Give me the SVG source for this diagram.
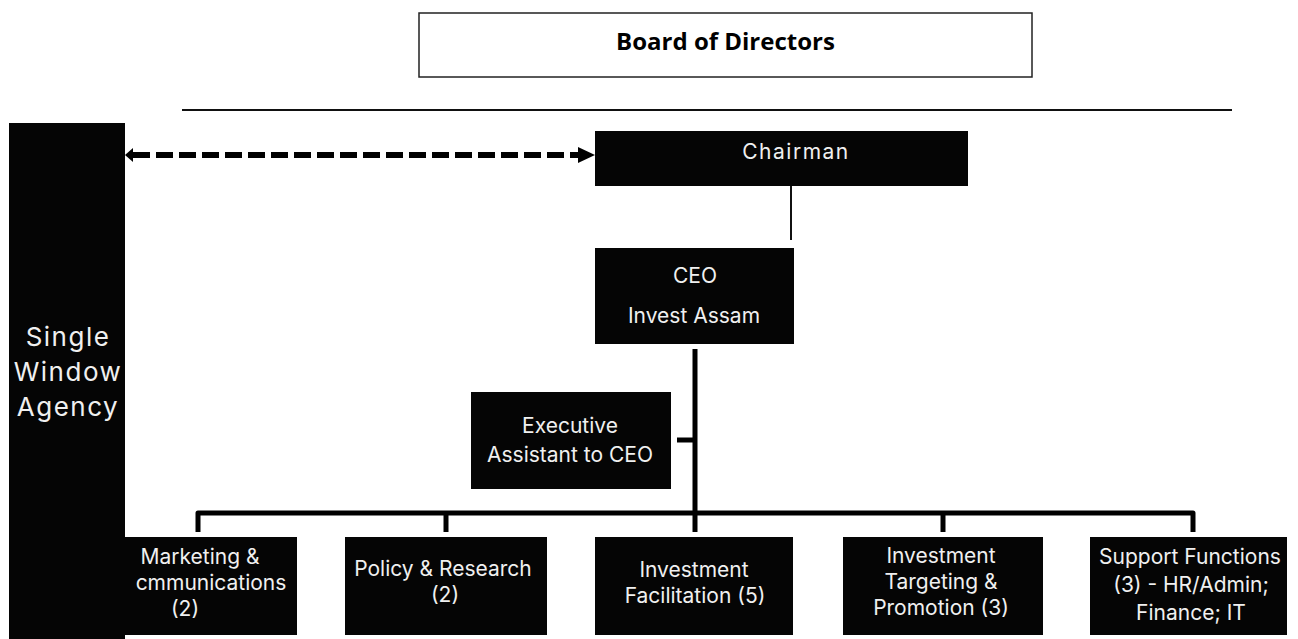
<svg xmlns="http://www.w3.org/2000/svg" width="1298" height="639" viewBox="0 0 1298 639">
  <style>
    .box { fill: #050505; }
    .lbl { font-family: Inter, "Open Sans", "Liberation Sans", sans-serif; fill: #f0f0f0; text-anchor: middle; font-size: 21px; }
    .side { font-size: 26px; letter-spacing: 1.5px; }
    .conn { stroke: #000; fill: none; stroke-width: 5; stroke-linejoin: round; }
    .thin { stroke: #111; fill: none; stroke-width: 2; }
  </style>
  <defs>
    <marker id="headRight" markerUnits="userSpaceOnUse" markerWidth="18" markerHeight="18" refX="0" refY="8" orient="auto">
      <path d="M0,0 L17,8 L0,16 Z" fill="#000"/>
    </marker>
    <marker id="headLeft" markerUnits="userSpaceOnUse" markerWidth="10" markerHeight="14" refX="0" refY="7" orient="auto-start-reverse">
      <path d="M0,0 L8,7 L0,14 Z" fill="#000"/>
    </marker>
  </defs>

  <rect width="1298" height="639" fill="#fff"/>

  <!-- top governance line -->
  <line x1="182" y1="110" x2="1232" y2="110" class="thin"/>

  <g id="connectors">
    <!-- Single Window Agency <-> Chairman -->
    <line x1="133" y1="155" x2="578" y2="155" stroke="#000" stroke-width="6" stroke-dasharray="17 6" marker-start="url(#headLeft)" marker-end="url(#headRight)"/>
    <!-- Chairman -> CEO -->
    <line x1="791" y1="186" x2="791" y2="240" class="thin"/>
    <!-- CEO trunk down to Investment Facilitation -->
    <line x1="695" y1="349" x2="695" y2="532" class="conn"/>
    <!-- Executive Assistant stub -->
    <line x1="677" y1="440" x2="695" y2="440" class="conn"/>
    <!-- department bus -->
    <path d="M198,532 L198,513 L1193,513 L1193,532" class="conn"/>
    <line x1="446" y1="513" x2="446" y2="532" class="conn"/>
    <line x1="943" y1="513" x2="943" y2="532" class="conn"/>
  </g>

  <g id="board">
    <rect x="419" y="13" width="613" height="64" fill="#fff" stroke="#222" stroke-width="1.5"/>
    <text x="725.5" y="50" font-family="'Open Sans', 'Liberation Sans', sans-serif" font-weight="bold" font-size="24" fill="#000" text-anchor="middle">Board of Directors</text>
  </g>

  <g id="single-window">
    <rect class="box" x="9" y="123" width="116" height="516"/>
    <text class="lbl side" x="68" y="346">Single</text>
    <text class="lbl side" x="68" y="381">Window</text>
    <text class="lbl side" x="68" y="416">Agency</text>
  </g>

  <g id="chairman">
    <rect class="box" x="595" y="131" width="373" height="55"/>
    <text class="lbl" font-size="29" letter-spacing="1.5" x="796" y="159">Chairman</text>
  </g>

  <g id="ceo">
    <rect class="box" x="595" y="248" width="199" height="96"/>
    <text class="lbl" x="695" y="283">CEO</text>
    <text class="lbl" x="694" y="323">Invest Assam</text>
  </g>

  <g id="executive-assistant">
    <rect class="box" x="471" y="392" width="200" height="97"/>
    <text class="lbl" x="570" y="433">Executive</text>
    <text class="lbl" x="570" y="462">Assistant to CEO</text>
  </g>

  <g id="marketing">
    <rect class="box" x="125" y="537" width="172" height="98"/>
    <text class="lbl" x="200" y="564">Marketing &amp;</text>
    <text class="lbl" x="211" y="590">cmmunications</text>
    <text class="lbl" x="185" y="616">(2)</text>
  </g>

  <g id="policy">
    <rect class="box" x="345" y="537" width="202" height="98"/>
    <text class="lbl" x="443" y="576">Policy &amp; Research</text>
    <text class="lbl" x="445" y="602">(2)</text>
  </g>

  <g id="facilitation">
    <rect class="box" x="595" y="537" width="198" height="98"/>
    <text class="lbl" x="694" y="577">Investment</text>
    <text class="lbl" x="695" y="603">Facilitation (5)</text>
  </g>

  <g id="targeting">
    <rect class="box" x="843" y="537" width="200" height="98"/>
    <text class="lbl" x="941" y="563">Investment</text>
    <text class="lbl" x="941" y="589">Targeting &amp;</text>
    <text class="lbl" x="941" y="615">Promotion (3)</text>
  </g>

  <g id="support">
    <rect class="box" x="1090" y="537" width="197" height="98"/>
    <text class="lbl" x="1190" y="564">Support Functions</text>
    <text class="lbl" x="1191" y="592">(3) - HR/Admin;</text>
    <text class="lbl" x="1191" y="620">Finance; IT</text>
  </g>
</svg>
